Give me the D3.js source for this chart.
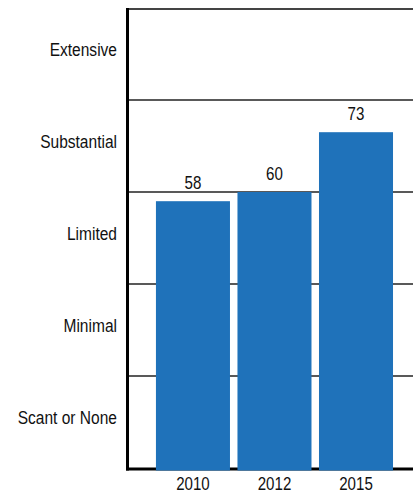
<!DOCTYPE html>
<html>
<head>
<meta charset="utf-8">
<script src="https://cdn.jsdelivr.net/npm/d3@7"></script>
<style>
  body { margin: 0; background: #fff; }
  text { font-family: "Liberation Sans Narrow", "Liberation Sans", Arial, sans-serif; fill: #111; }
</style>
</head>
<body>
<svg id="canvas" width="413" height="493"></svg>
<script>
// values
var years = ['2010', '2012', '2015']
var scores = [58, 60, 73]
var levels = ['Scant or None', 'Minimal', 'Limited', 'Substantial', 'Extensive']
var levelBreaks = [20, 40, 60, 80]

var width = 413, height = 493
var plotLeft = 128, plotTop = 8, plotBottom = 468
var narrow = 0.84 // squeeze text horizontally, no condensed face here

var svg = d3.select('#canvas')

var x = d3.scaleBand()
  .domain(years)
  .range([plotLeft, width])
  .paddingInner(0.092)
  .paddingOuter(0.294)
  .align(0.583)

var y = d3.scaleLinear().domain([0, 100]).range([plotBottom, plotTop])

function place(px, py) {
  return 'translate(' + px + ',' + py + ') scale(' + narrow + ',1)'
}

// grid lines between levels
svg.append('g').selectAll('line')
  .data(levelBreaks)
  .enter()
  .append('line')
  .attr('x1', plotLeft).attr('x2', width)
  .attr('y1', d => y(d)).attr('y2', d => y(d))
  .attr('stroke', '#222')
  .attr('stroke-width', 1.3)

// top border
svg.append('line')
  .attr('x1', plotLeft).attr('x2', width)
  .attr('y1', y(100) + 1).attr('y2', y(100) + 1)
  .attr('stroke', '#444')
  .attr('stroke-width', 2)

// left and bottom axis lines
svg.append('line')
  .attr('x1', plotLeft - 0.5).attr('x2', plotLeft - 0.5)
  .attr('y1', y(100)).attr('y2', plotBottom + 2.5)
  .attr('stroke', '#000')
  .attr('stroke-width', 3)
svg.append('line')
  .attr('x1', plotLeft - 2).attr('x2', width)
  .attr('y1', plotBottom + 1).attr('y2', plotBottom + 1)
  .attr('stroke', '#000')
  .attr('stroke-width', 3)

// level labels, centered in each band
svg.append('g').selectAll('text')
  .data(levels)
  .enter()
  .append('text')
  .attr('transform', (d, i) => place(117, (y(i * 20) + y(i * 20 + 20)) / 2 + 2))
  .attr('text-anchor', 'end')
  .attr('font-size', 18.5)
  .text(d => d)

// bars
svg.append('g').selectAll('rect')
  .data(scores)
  .enter()
  .append('rect')
  .attr('x', (d, i) => x(years[i]))
  .attr('width', x.bandwidth())
  .attr('y', d => y(d))
  .attr('height', d => plotBottom + 2.5 - y(d))
  .attr('fill', '#1f72ba')

// value labels
svg.append('g').selectAll('text')
  .data(scores)
  .enter()
  .append('text')
  .attr('transform', (d, i) => place(x(years[i]) + x.bandwidth() / 2, y(d) - 12))
  .attr('text-anchor', 'middle')
  .attr('font-size', 18)
  .text(d => d)

// year labels
svg.append('g').selectAll('text')
  .data(years)
  .enter()
  .append('text')
  .attr('transform', d => place(x(d) + x.bandwidth() / 2, 490))
  .attr('text-anchor', 'middle')
  .attr('font-size', 18)
  .text(d => d)
</script>
</body>
</html>
